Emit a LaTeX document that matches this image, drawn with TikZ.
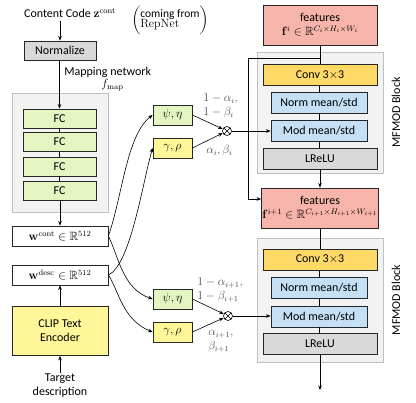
\documentclass[tikz,border=0pt]{standalone}
\usepackage[no-math]{fontspec}
\setmainfont{Carlito}
\usepackage{amsmath,amssymb}
\usetikzlibrary{arrows.meta,calc}

\definecolor{fcgreen}{HTML}{E4F5C2}
\definecolor{clipyellow}{HTML}{FFF69A}
\definecolor{featred}{HTML}{F7B4AA}
\definecolor{convorange}{HTML}{FFD966}
\definecolor{normblue}{HTML}{C5E0F5}
\definecolor{lgray}{HTML}{D9D9D9}
\definecolor{bggray}{HTML}{F2F2F2}
\definecolor{bgline}{HTML}{BFBFBF}
\definecolor{lbl}{HTML}{4D4D4D}

\begin{document}
\begin{tikzpicture}[x=1pt,y=-1pt,
  font=\fontsize{12}{14}\selectfont,
  >={Stealth[length=4.5pt,width=3.6pt]},
  line width=0.6pt,
  box/.style={draw=black!85, line width=0.8pt, inner sep=1pt, align=center},
  bgbox/.style={draw=bgline, fill=bggray, line width=0.8pt},
  fcbox/.style={box, fill=fcgreen, minimum width=73pt, minimum height=19pt},
  wbox/.style={box, fill=white, minimum width=96pt, minimum height=20pt},
  coefbox/.style={box, minimum width=39pt, minimum height=20pt},
  featbox/.style={box, fill=featred, minimum width=114pt, minimum height=40pt},
  widebox/.style={box, minimum width=114pt, minimum height=21pt},
  narrowbox/.style={box, fill=normblue, minimum width=96pt, minimum height=21pt},
  mult/.style={circle, draw=black, line width=0.6pt, minimum size=9pt, inner sep=0pt,
    path picture={\draw[line width=0.5pt]
      (path picture bounding box.north west) -- (path picture bounding box.south east)
      (path picture bounding box.north east) -- (path picture bounding box.south west);}},
  lab/.style={text=lbl, align=left, inner sep=0pt}
]
\useasboundingbox (0,0) rectangle (416,403);

% ---- backgrounds of the grouped blocks
\node[bgbox, minimum width=96pt, minimum height=119pt] (mapbg) at (60,152.5) {};
\node[bgbox, minimum width=126pt, minimum height=121pt] (blk1) at (320,112.5) {};
\node[bgbox, minimum width=126pt, minimum height=124pt] (blk2) at (320,300) {};

% ---- left column: mapping network and text encoder
\node (cc) at (70,13) {Content Code $\mathbf{z}^{\mathrm{cont}}$};
\node[inner sep=0pt] (rep) at (170,20)
  {$\biggl(\text{\fontsize{11.5}{11}\selectfont\begin{tabular}{@{}l@{}}coming from\\[-1pt] $\mathrm{RepNet}$\end{tabular}}\biggr)$};
\node[box, fill=lgray, minimum width=72pt, minimum height=19pt] (norm) at (60,50.5) {Normalize};
\node[anchor=west, inner sep=0pt] (mapt) at (64,72) {Mapping network};
\node[anchor=east, inner sep=0pt] (fmap) at (124,85) {$f_{\mathrm{map}}$};

\node[fcbox] (fc1) at (59.5,118.5) {FC};
\node[fcbox] (fc2) at (59.5,142) {FC};
\node[fcbox] (fc3) at (59.5,166.5) {FC};
\node[fcbox] (fc4) at (59.5,191) {FC};

\node[wbox] (wc) at (60,236) {$\mathbf{w}^{\mathrm{cont}} \in \mathbb{R}^{512}$};
\node[wbox] (wd) at (60,275) {$\mathbf{w}^{\mathrm{desc}} \in \mathbb{R}^{512}$};
\node[box, fill=clipyellow, minimum width=96pt, minimum height=49pt] (clip) at (60,331) {CLIP Text\\Encoder};
\node[align=center, inner sep=1pt] (tgt) at (60,386) {Target\\description};

\draw[->] (cc.south -| norm.north) -- (norm.north);
\draw[->] (norm.south -| fc1.north) -- (fc1.north);
\draw (fc1) -- (fc2);
\draw (fc2) -- (fc3);
\draw (fc3) -- (fc4);
\draw[->] (fc4.south -| wc.north) -- (wc.north);
\draw[->] (clip.north) -- (wd.south);
\draw[->] (tgt.north) -- (clip.south);

% ---- modulation coefficients
\node[coefbox, fill=fcgreen] (psi1) at (172.5,115) {$\psi,\eta$};
\node[coefbox, fill=clipyellow] (gam1) at (172.5,148) {$\gamma,\rho$};
\node[mult] (mul1) at (227,131) {};
\node[lab, anchor=west] (l1a) at (203,106) {$1-\alpha_i,$\\$1-\beta_i$};
\node[lab, anchor=west] (l1b) at (206,151) {$\alpha_i,\beta_i$};

\node[coefbox, fill=fcgreen] (psi2) at (172.5,299) {$\psi,\eta$};
\node[coefbox, fill=clipyellow] (gam2) at (172.5,332) {$\gamma,\rho$};
\node[mult] (mul2) at (228,316) {};
\node[lab, anchor=west] (l2a) at (197,290) {$1-\alpha_{i+1},$\\$1-\beta_{i+1}$};
\node[lab, anchor=west] (l2b) at (208,341) {$\alpha_{i+1},$\\$\beta_{i+1}$};

\draw[->] (wc.east) .. controls +(14,-40) and +(-26,20) .. (psi1.west);
\draw[->] (wd.east) .. controls +(22,-10) and +(-10,35) .. (gam1.west);
\draw[->] (wc.east) .. controls +(10,20) and +(-30,-10) .. (psi2.west);
\draw[->] (wd.east) .. controls +(10,15) and +(-30,-12) .. (gam2.west);

\draw[->] (psi1.east) -- (mul1);
\draw[->] (gam1.east) -- (mul1);
\draw[->] (psi2.east) -- (mul2);
\draw[->] (gam2.east) -- (mul2);

% ---- right column: two MFMOD blocks
\node[featbox] (feat1) at (320,25) {features\\$\mathbf{f}^{i} \in \mathbb{R}^{C_i \times H_i \times W_i}$};
\node[widebox, fill=convorange] (conv1) at (320,75) {Conv 3$\times$3};
\node[narrowbox] (norm1) at (319,103) {Norm mean/std};
\node[narrowbox] (mod1) at (319,130.5) {Mod mean/std};
\node[widebox, fill=lgray] (lrelu1) at (320,158.5) {LReLU};
\node[featbox] (feat2) at (320,208) {features\\$\mathbf{f}^{i+1} \in \mathbb{R}^{C_{i+1} \times H_{i+1} \times W_{i+1}}$};
\node[widebox, fill=convorange] (conv2) at (320,259.5) {Conv 3$\times$3};
\node[narrowbox] (norm2) at (319,287.5) {Norm mean/std};
\node[narrowbox] (mod2) at (319,316.5) {Mod mean/std};
\node[widebox, fill=lgray] (lrelu2) at (320,343.5) {LReLU};
\coordinate (out) at (320,390);

\node[rotate=90] (mf1) at (396,112.5) {MFMOD Block};
\node[rotate=90] (mf2) at (396,300) {MFMOD Block};

\draw (feat1.south) -- (conv1.north);
\draw (conv1.south -| norm1.north) -- (norm1.north);
\draw (norm1) -- (mod1);
\draw (mod1.south) -- (lrelu1.north -| mod1.south);
\draw[->] (lrelu1.south) -- (feat2.north);
\draw (feat2.south) -- (conv2.north);
\draw (conv2.south -| norm2.north) -- (norm2.north);
\draw (norm2) -- (mod2);
\draw (mod2.south) -- (lrelu2.north -| mod2.south);
\draw[->] (lrelu2.south) -- (out);

% skip connection around the first block
\coordinate (sk0) at (320,58);
\coordinate (sk1) at (248,58);
\coordinate (sk2) at (248,199);
\draw[->] (sk0) -- (sk1) -- (sk2) -- (sk2 -| feat2.west);

% modulation inputs
\draw[->] (mul1.east) -- (mul1.east -| mod1.west);
\draw[->] (mul2.east) -- (mul2.east -| mod2.west);
\end{tikzpicture}
\end{document}
